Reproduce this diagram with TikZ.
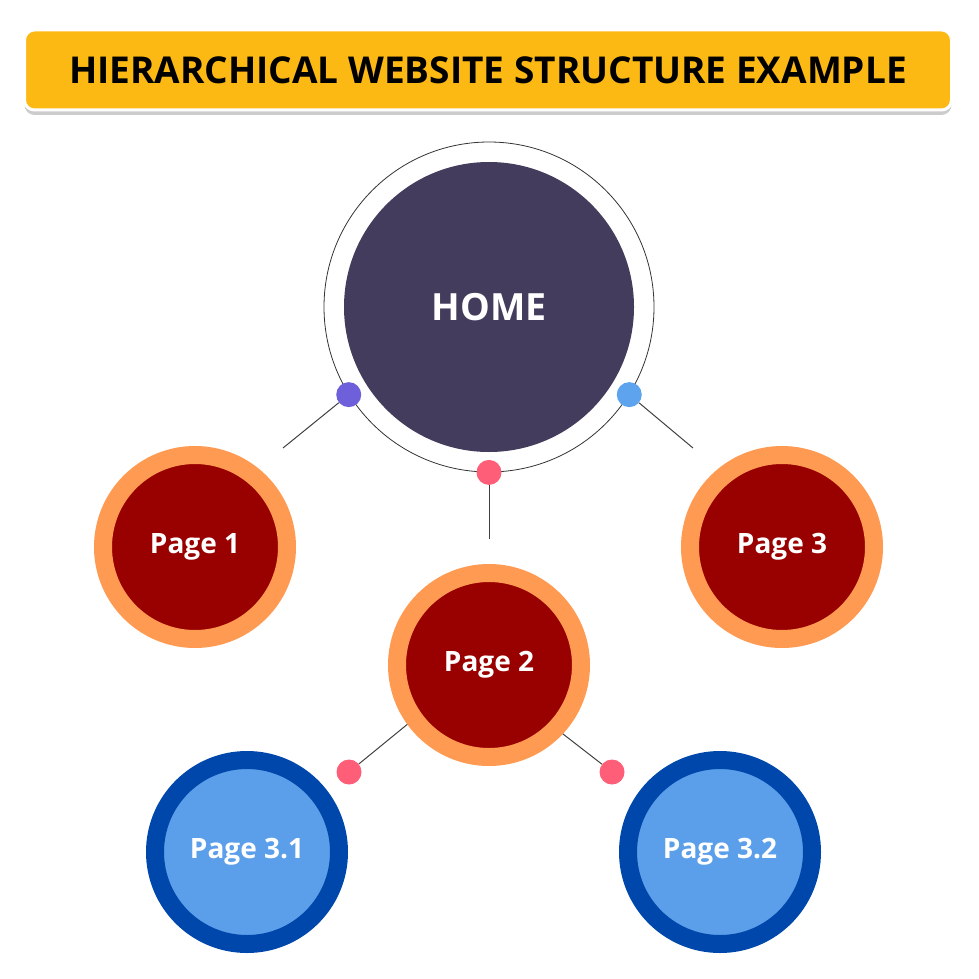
\documentclass[tikz,border=0pt]{standalone}
\usepackage{fontspec}
\setmainfont{Open Sans}
\usetikzlibrary{positioning}
\usetikzlibrary{shadows}

\definecolor{titlegold}{HTML}{FDB913}
\definecolor{homeviolet}{HTML}{433C5C}
\definecolor{pagered}{HTML}{990000}
\definecolor{pageorange}{HTML}{FF9A52}
\definecolor{subblue}{HTML}{5B9FEA}
\definecolor{subnavy}{HTML}{0047AB}
\definecolor{dotpurple}{HTML}{6E5FDB}
\definecolor{dotblue}{HTML}{5DA3EE}
\definecolor{dotpink}{HTML}{FF5E78}

\begin{document}
\begin{tikzpicture}[x=1pt,y=-1pt,
      titlebox/.style={rectangle, rounded corners=10pt, fill=titlegold,
        draw=white, line width=3pt, minimum width=927pt, minimum height=80pt,
        drop shadow={shadow xshift=0pt, shadow yshift=-5pt, opacity=0.4},
        font=\fontsize{37}{37}\selectfont\bfseries},
      homedisk/.style={circle, fill=homeviolet, inner sep=0pt, minimum size=290pt,
        text=white, font=\fontsize{37.5}{37.5}\selectfont\bfseries},
      homering/.style={circle, draw=black!80, line width=0.8pt, minimum size=330pt},
      pagedisk/.style={circle, fill=pagered, draw=pageorange, line width=18pt,
        inner sep=0pt, minimum size=184pt, text=white,
        font=\fontsize{28}{28}\selectfont\bfseries},
      subdisk/.style={pagedisk, fill=subblue, draw=subnavy},
      dot/.style={circle, fill=#1, inner sep=0pt, minimum size=25pt},
      link/.style={draw=black!75, line width=1pt},
      ]
      \useasboundingbox (0,0) rectangle (979,979);

      % title
      \node[titlebox] (title) at (488,70) {HIERARCHICAL WEBSITE STRUCTURE EXAMPLE};

      % home
      \node[homedisk] (home) at (489,307) {HOME};
      \node[homering] (ring) at (home) {};

      % pages
      \node[pagedisk] (p1) at (195,547) {Page 1};
      \node[pagedisk] (p2) at (489,665) {Page 2};
      \node[pagedisk] (p3) at (782,547) {Page 3};
      \node[subdisk] (p31) at (247,852) {Page 3.1};
      \node[subdisk] (p32) at (720,852) {Page 3.2};

      % dots
      \node[dot=dotpurple] (d1) at (ring.212) {};
      \node[dot=dotpink] (d2) at (ring.270) {};
      \node[dot=dotblue] (d3) at (ring.328) {};
      \node[dot=dotpink] (d4) at (349,772) {};
      \node[dot=dotpink] (d5) at (612,772) {};

      \coordinate (e1) at (283,448);
      \coordinate (e2) at (489,539);
      \coordinate (e3) at (693,448);

      % links
      \draw[link] (d1) -- (e1);
      \draw[link] (d2) -- (e2);
      \draw[link] (d3) -- (e3);
      \draw[link] (p2.216) -- (d4);
      \draw[link] (p2.317) -- (d5);
    \end{tikzpicture}
\end{document}
